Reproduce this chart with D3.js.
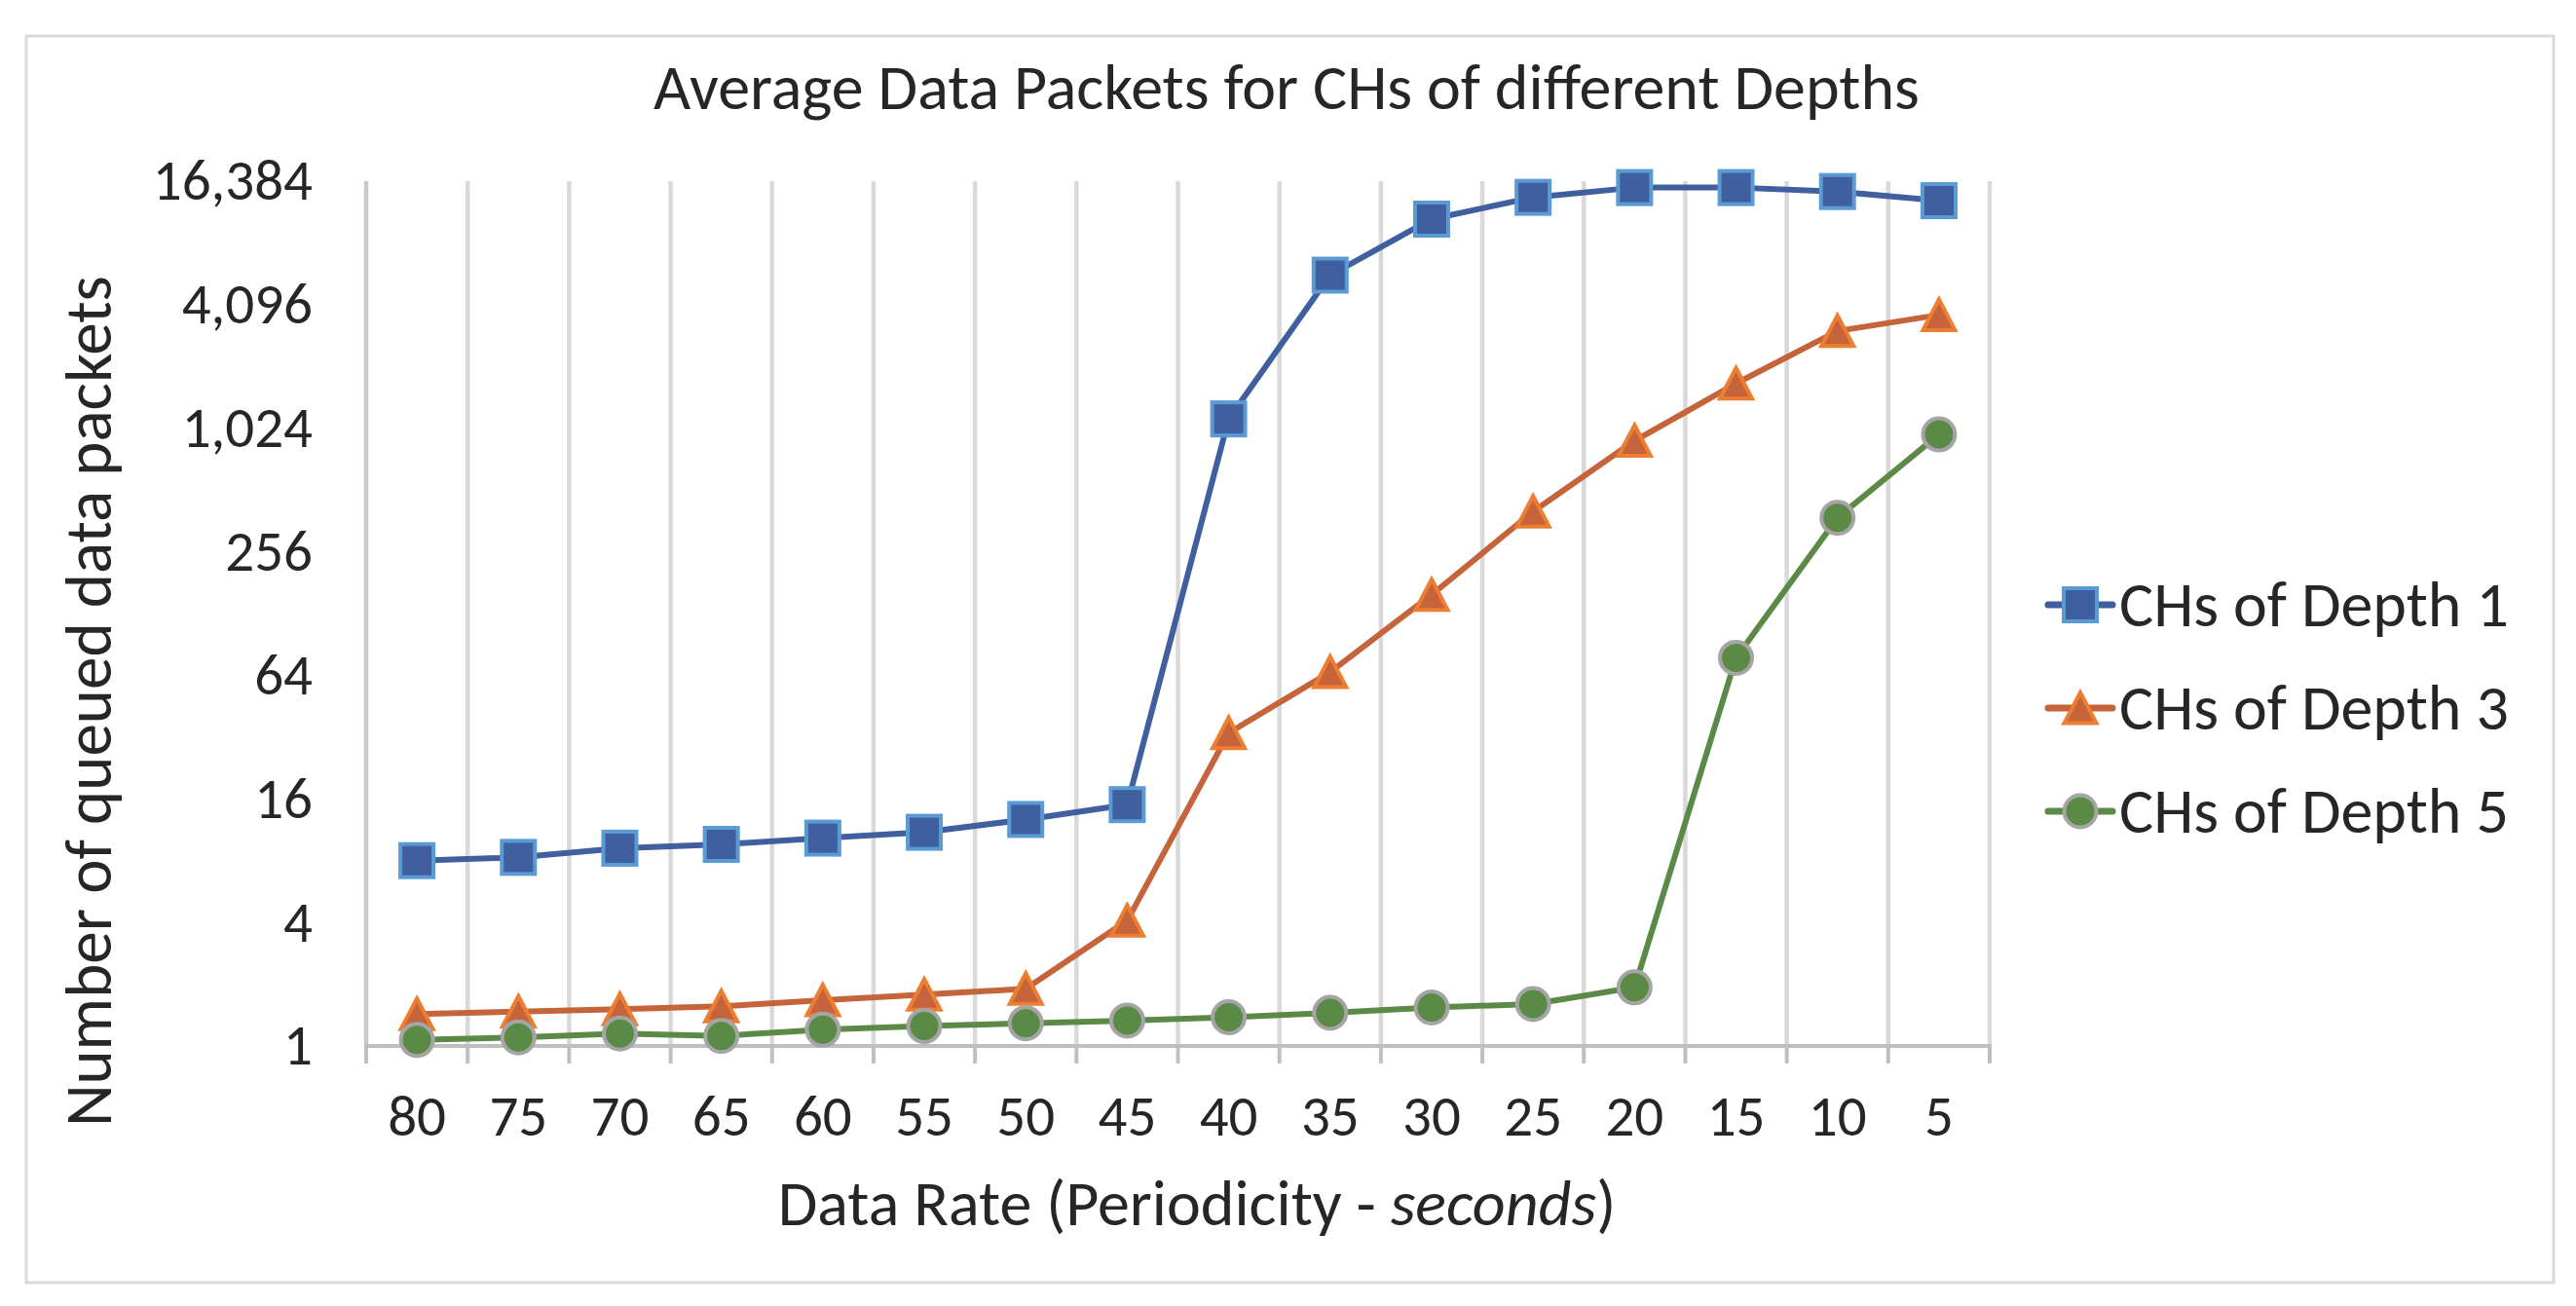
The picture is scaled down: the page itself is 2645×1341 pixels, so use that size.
<!DOCTYPE html>
<html>
<head>
<meta charset="utf-8">
<script src="https://cdn.jsdelivr.net/npm/d3@7"></script>
<style>
  html, body { margin: 0; padding: 0; background: #fff; }
  text { font-family: Carlito, Calibri, Lato, sans-serif; fill: #262626; }
</style>
</head>
<body>
<svg id="chart" width="2645" height="1341"></svg>
<script>
const periods = [80, 75, 70, 65, 60, 55, 50, 45, 40, 35, 30, 25, 20, 15, 10, 5]
const depth1 = [8.0, 8.3, 9.2, 9.6, 10.3, 11.0, 12.7, 15.0, 1137, 5706, 10700, 13660, 15240, 15240, 14580, 13160]
const depth3 = [1.43, 1.47, 1.51, 1.56, 1.67, 1.78, 1.90, 4.08, 33.5, 66.4, 158, 402, 890, 1692, 3049, 3650]
const depth5 = [1.07, 1.10, 1.15, 1.12, 1.20, 1.25, 1.29, 1.33, 1.38, 1.45, 1.54, 1.60, 1.93, 77.9, 375, 955]
const yTicks = [1, 4, 16, 64, 256, 1024, 4096, 16384]
const seriesNames = ['CHs of Depth 1', 'CHs of Depth 3', 'CHs of Depth 5']

const W = 2645, H = 1341
const plot = { left: 376, right: 2043, top: 186, bottom: 1074 }

const svg = d3.select('#chart')
svg.append('rect').attr('width', W).attr('height', H).attr('fill', '#fff')
svg.append('rect')
  .attr('x', 27).attr('y', 37).attr('width', 2595).attr('height', 1280)
  .attr('fill', 'none').attr('stroke', '#d9d9d9').attr('stroke-width', 3)

const x = d3.scaleBand().domain(periods).range([plot.left, plot.right])
const y = d3.scaleLog().base(2).domain([1, 16384]).range([plot.bottom, plot.top])

// vertical gridlines at category boundaries
const bounds = periods.map(p => x(p)).concat([plot.right])
svg.append('g').selectAll('line').data(bounds).enter().append('line')
  .attr('x1', d => d).attr('x2', d => d)
  .attr('y1', plot.top).attr('y2', plot.bottom)
  .attr('stroke', (d, i) => i === 0 ? '#c8c8c8' : '#d9d9d9')
  .attr('stroke-width', 4.5)

// x axis line + boundary ticks
svg.append('line')
  .attr('x1', plot.left - 2).attr('x2', plot.right + 2)
  .attr('y1', plot.bottom).attr('y2', plot.bottom)
  .attr('stroke', '#bfbfbf').attr('stroke-width', 4)
svg.append('g').selectAll('line').data(bounds).enter().append('line')
  .attr('x1', d => d).attr('x2', d => d)
  .attr('y1', plot.bottom).attr('y2', plot.bottom + 18)
  .attr('stroke', '#bfbfbf').attr('stroke-width', 4)

// x labels
const xAxis = svg.append('g')
  .attr('transform', `translate(0,${plot.bottom})`)
  .call(d3.axisBottom(x).tickSize(0).tickPadding(50))
xAxis.select('.domain').remove()
xAxis.selectAll('text').style('font-size', '59px').style('fill', '#262626')
  .attr('font-family', null)

// y labels
const yAxis = svg.append('g')
  .attr('transform', `translate(${plot.left},0)`)
  .call(d3.axisLeft(y).tickValues(yTicks).tickFormat(d3.format(',')).tickSize(0).tickPadding(55))
yAxis.select('.domain').remove()
yAxis.selectAll('text').style('font-size', '59px').style('fill', '#262626')
  .attr('font-family', null)

// series
const series = [
  { name: seriesNames[0], values: depth1, line: '#3f5f9e', fill: '#3f5f9e', edge: '#5b9bd5', shape: 'square' },
  { name: seriesNames[1], values: depth3, line: '#c5643a', fill: '#c5643a', edge: '#ed7d31', shape: 'triangle' },
  { name: seriesNames[2], values: depth5, line: '#5b8a46', fill: '#5b8a46', edge: '#a5a5a5', shape: 'circle' }
]

const cx = p => x(p) + x.bandwidth() / 2
const line = d3.line().x(d => cx(d.p)).y(d => y(d.v))

const drawMarker = (g, s) => {
  if (s.shape === 'square') {
    g.append('rect').attr('x', -17).attr('y', -17).attr('width', 34).attr('height', 34)
  } else if (s.shape === 'triangle') {
    g.append('path').attr('d', 'M0,-16L16.5,15.5L-16.5,15.5Z')
  } else {
    g.append('circle').attr('r', 16.5)
  }
  g.selectAll('*').attr('fill', s.fill).attr('stroke', s.edge).attr('stroke-width', 4)
}

series.forEach(s => {
  const pts = periods.map((p, i) => ({ p, v: s.values[i] }))
  svg.append('path').datum(pts)
    .attr('d', line)
    .attr('fill', 'none').attr('stroke', s.line).attr('stroke-width', 6)
    .attr('stroke-linejoin', 'round')
  svg.append('g').selectAll('g').data(pts).enter().append('g')
    .attr('transform', d => `translate(${cx(d.p)},${y(d.v)})`)
    .each(function () { drawMarker(d3.select(this), s) })
})

// title
svg.append('text')
  .attr('x', 1321).attr('y', 112).attr('text-anchor', 'middle')
  .style('font-size', '66px')
  .text('Average Data Packets for CHs of different Depths')

// x title
const xt = svg.append('text')
  .attr('x', 1229).attr('y', 1258).attr('text-anchor', 'middle')
  .style('font-size', '66px')
xt.append('tspan').text('Data Rate (Periodicity - ')
xt.append('tspan').style('font-style', 'italic').text('seconds')
xt.append('tspan').text(')')

// y title
svg.append('text')
  .attr('transform', 'translate(114,720) rotate(-90)')
  .attr('text-anchor', 'middle')
  .style('font-size', '67px')
  .text('Number of queued data packets')

// legend
const legendY = [621, 727, 833]
const lg = svg.append('g').selectAll('g').data(series).enter().append('g')
  .attr('transform', (d, i) => `translate(2136,${legendY[i]})`)
lg.append('line').attr('x1', -33).attr('x2', 33)
  .attr('stroke', d => d.line).attr('stroke-width', 7).attr('stroke-linecap', 'round')
lg.each(function (d) { drawMarker(d3.select(this).append('g'), d) })
lg.append('text').attr('x', 40).attr('y', 22)
  .style('font-size', '66px')
  .text(d => d.name)
</script>
</body>
</html>
